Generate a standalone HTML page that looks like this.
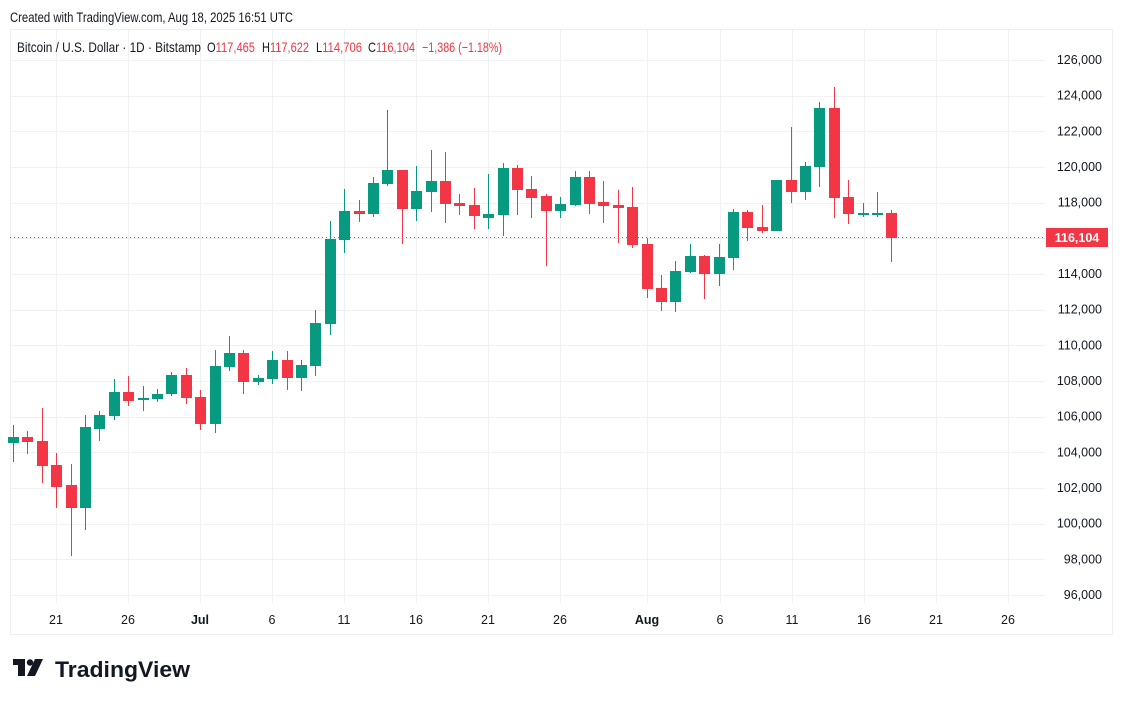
<!DOCTYPE html>
<html><head><meta charset="utf-8"><style>
body{margin:0;background:#fff;width:1123px;height:703px;overflow:hidden;font-family:"Liberation Sans",sans-serif}
</style></head><body>
<svg id="s" width="1123" height="703" xmlns="http://www.w3.org/2000/svg" style="position:absolute;left:0;top:0">
<rect x="10.5" y="29.5" width="1102" height="605" fill="#fff" stroke="#eceef1"/>
<g id="grid" stroke="#f0f1f3" stroke-width="1"></g>
<text x="10" y="22" font-size="13.5" fill="#131722" textLength="283" lengthAdjust="spacingAndGlyphs">Created with TradingView.com, Aug 18, 2025 16:51 UTC</text>
<g font-size="14" fill="#131722">
<text x="17" y="52" textLength="184" lengthAdjust="spacingAndGlyphs">Bitcoin / U.S. Dollar · 1D · Bitstamp</text>
<text x="207" y="52" textLength="48" lengthAdjust="spacingAndGlyphs">O<tspan fill="#f23645">117,465</tspan></text>
<text x="262" y="52" textLength="47" lengthAdjust="spacingAndGlyphs">H<tspan fill="#f23645">117,622</tspan></text>
<text x="316" y="52" textLength="46" lengthAdjust="spacingAndGlyphs">L<tspan fill="#f23645">114,706</tspan></text>
<text x="368" y="52" textLength="47" lengthAdjust="spacingAndGlyphs">C<tspan fill="#f23645">116,104</tspan></text>
<text x="422" y="52" fill="#f23645" textLength="80" lengthAdjust="spacingAndGlyphs">−1,386 (−1.18%)</text>
</g>
<g id="ylab" font-size="12.5" fill="#131722" text-anchor="end"></g>
<g id="xlab" font-size="12.5" fill="#131722" text-anchor="middle">
<text x="56" y="624">21</text><text x="128" y="624">26</text><text x="200" y="624" font-weight="bold">Jul</text><text x="272" y="624">6</text><text x="344" y="624">11</text><text x="416" y="624">16</text><text x="488" y="624">21</text><text x="560" y="624">26</text><text x="647" y="624" font-weight="bold">Aug</text><text x="720" y="624">6</text><text x="792" y="624">11</text><text x="864" y="624">16</text><text x="936" y="624">21</text><text x="1008" y="624">26</text>
</g>
<line x1="10" y1="237.5" x2="1045" y2="237.5" stroke="#f23645" stroke-dasharray="1,3"/>
<g id="c"></g>
<rect x="1046" y="228" width="62" height="19" fill="#f23645"/>
<text x="1077" y="242" font-size="12.5" fill="#fff" text-anchor="middle" font-weight="bold">116,104</text>
<g transform="translate(13,659)" fill="#131722"><rect x="0" y="0" width="12" height="6"/><rect x="5" y="0" width="7" height="17"/><circle cx="17" cy="3.5" r="3.2"/><polygon points="22,0 30,0 22,17 14,17"/></g>
<text x="55" y="677" font-size="22" font-weight="bold" fill="#131722" textLength="135" lengthAdjust="spacingAndGlyphs">TradingView</text>
</svg>
<script>
var ns="http://www.w3.org/2000/svg";
function el(p,t,a,txt){var e=document.createElementNS(ns,t);for(var k in a)e.setAttribute(k,a[k]);if(txt)e.textContent=txt;document.getElementById(p).appendChild(e);}
var xs=[56,128,200,272,344,416,488,560,647,720,792,864,936,1008];
xs.forEach(function(x){el("grid","line",{x1:x+.5,y1:30,x2:x+.5,y2:603});});
for(var i=0;i<=15;i++){var y=60+i*35.67;el("grid","line",{x1:10,y1:Math.round(y)+.5,x2:1045,y2:Math.round(y)+.5});
var v=126-2*i;if(v!==116)el("ylab","text",{x:1102,y:y+4},v+",000");}
var C=[
["g",437,443,425,462],["r",437,442,431,454],["r",441,466,408,483],["r",465,487,453,508],["r",485,508,464,556],["g",427,508,415,530],["g",415,429,411,441],["g",392,416,379,420],["r",392,401,376,406],["g",398,400,386,411],["g",394,399,389,402],["g",375,394,372,396],["r",375,398,368,404],["r",397,424,390,430],["g",366,424,350,433],["g",353,367,336,371],["r",353,382,350,394],["g",378,382,375,385],["g",360,379,351,384],["r",360,378,351,390],["g",365,378,360,391],["g",323,366,310,376],
["g",239,324,221,335],["g",211,240,189,253],["r",211,214,200,222],["g",183,214,177,217],["g",170,184,110,186],["r",170,209,170,244],["g",191,209,166,221],["g",181,192,150,212],["r",181,204,152,223],["r",203,206,194,215],["r",205,216,188,229],["g",214,218,174,229],["g",168,215,163,236],["r",168,190,165,215],["r",189,198,176,218],["r",196,211,194,266],["g",204,211,197,218],["g",177,205,171,206],["r",177,204,171,214],["r",202,206,181,223],["r",205,208,190,243],["r",207,245,187,248],
["r",244,289,238,298],["r",288,302,275,311],["g",271,302,261,312],["g",256,272,244,273],["r",256,274,255,299],["g",257,274,244,286],["g",212,258,209,270],["r",212,228,210,241],["r",227,231,205,233],["g",180,231,180,231],["r",180,192,127,203],["g",166,192,162,200],["g",108,167,102,187],["r",108,198,87,218],["r",197,214,180,224],["g",213,213,203,217],["g",213,213,192,217],["r",213,238,210,262]];
C.forEach(function(c,i){var x=Math.round(13+i*14.4);var col=c[0]=="g"?"#089981":"#f23645";
el("c","rect",{x:x,y:c[3],width:1,height:c[4]-c[3],fill:col});
var h=Math.max(c[2]-c[1],2);el("c","rect",{x:x-5,y:c[1],width:11,height:h,fill:col});});
</script>
</body></html>
